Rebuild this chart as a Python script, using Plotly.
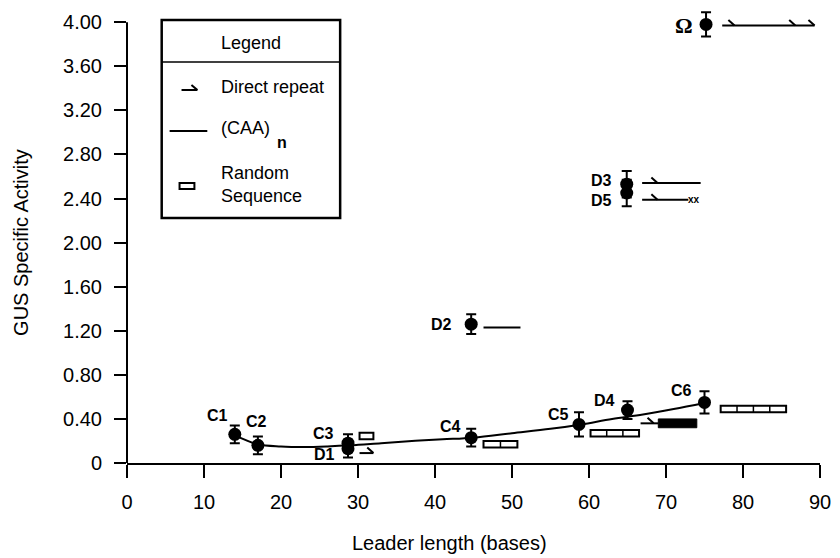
import plotly.graph_objects as go

# ---------------- data ----------------
construct_labels = ["C1", "C2", "C3", "D1", "C4", "D2", "C5", "D4", "C6", "D3", "D5", "Ω"]
leader_length = [14, 17, 28.7, 28.7, 44.7, 44.7, 58.7, 65, 75, 64.9, 64.9, 75.2]
gus_activity = [0.26, 0.16, 0.18, 0.13, 0.23, 1.26, 0.35, 0.48, 0.55, 2.53, 2.45, 3.98]
gus_error = [0.08, 0.08, 0.08, 0.08, 0.08, 0.09, 0.11, 0.08, 0.10, 0.12, 0.12, 0.11]

label_x = [11.7, 16.8, 25.5, 25.6, 42.0, 40.9, 56.0, 62.0, 72.0, 61.6, 61.6, 72.4]
label_y = [0.43, 0.38, 0.27, 0.08, 0.33, 1.26, 0.44, 0.57, 0.66, 2.565, 2.385, 3.97]

# smooth trend through the C-series
trend_x = [14, 17, 20, 23, 26, 29, 33, 37, 41, 45, 50, 55, 59, 63, 67, 71, 75]
trend_y = [0.25, 0.17, 0.15, 0.145, 0.15, 0.16, 0.18, 0.20, 0.215, 0.23, 0.27, 0.31, 0.35, 0.40, 0.44, 0.49, 0.545]

# construct diagrams (leader composition)
random_start = [30.2, 46.3, 60.2, 77.1]
random_end = [32.0, 50.7, 66.5, 85.6]
random_y = [0.245, 0.17, 0.27, 0.49]
random_units = [1, 2, 3, 4]

caa_start = [77.3, 66.9, 66.9, 46.3, 30.2, 66.7]
caa_end = [89.3, 74.5, 72.9, 51.1, 32.0, 69.0]
caa_y = [3.97, 2.54, 2.39, 1.23, 0.09, 0.36]

repeat_x = [78.9, 86.8, 89.3, 68.9, 68.9, 32.0, 68.4]
repeat_y = [3.97, 3.97, 3.97, 2.54, 2.39, 0.09, 0.36]

block_start = [69.0]
block_end = [74.0]
block_y = [0.36]

mutation_x = [73.7]
mutation_y = [2.39]

x_ticks = [0, 10, 20, 30, 40, 50, 60, 70, 80, 90]
y_ticks = [0, 0.4, 0.8, 1.2, 1.6, 2.0, 2.4, 2.8, 3.2, 3.6, 4.0]
y_tick_text = ["0", "0.40", "0.80", "1.20", "1.60", "2.00", "2.40", "2.80", "3.20", "3.60", "4.00"]

# ---------------- layout helpers ----------------
W, H = 840, 558
ML, MR, MT, MB = 127, 14, 9, 95
Y_MAX = 4.12
PW, PH = W - ML - MR, H - MT - MB
FONT = "Liberation Sans, Arial, Helvetica, sans-serif"


def px(x):
    return (x - ML) / PW


def py(y):
    return (H - MB - y) / PH


fig = go.Figure()

fig.add_trace(go.Scatter(
    x=trend_x, y=trend_y, mode="lines", line=dict(color="black", width=2, shape="spline"),
    hoverinfo="skip", showlegend=False))

fig.add_trace(go.Scatter(
    x=leader_length, y=gus_activity, mode="markers",
    marker=dict(color="black", size=13, symbol="circle"),
    error_y=dict(type="data", array=gus_error, color="black", thickness=2, width=5),
    showlegend=False, cliponaxis=False))

shapes = []
annotations = []

# random sequence boxes
for s, e, y, n in zip(random_start, random_end, random_y, random_units):
    h = 0.03
    shapes.append(dict(type="rect", xref="x", yref="y", x0=s, x1=e, y0=y - h, y1=y + h,
                       line=dict(color="black", width=2), fillcolor="white", layer="above"))
    step = (e - s) / n
    for k in range(1, n):
        shapes.append(dict(type="line", xref="x", yref="y", x0=s + k * step, x1=s + k * step,
                           y0=y - h, y1=y + h, line=dict(color="black", width=1.5)))

# (CAA)n lines
for s, e, y in zip(caa_start, caa_end, caa_y):
    shapes.append(dict(type="line", xref="x", yref="y", x0=s, x1=e, y0=y, y1=y,
                       line=dict(color="black", width=2)))

# direct repeat barbs
for x, y in zip(repeat_x, repeat_y):
    shapes.append(dict(type="line", xref="x", yref="y", x0=x - 0.8, x1=x, y0=y + 0.05, y1=y,
                       line=dict(color="black", width=2)))

# filled block
for s, e, y in zip(block_start, block_end, block_y):
    shapes.append(dict(type="rect", xref="x", yref="y", x0=s, x1=e, y0=y - 0.04, y1=y + 0.04,
                       line=dict(color="black", width=1), fillcolor="black"))

for x, y in zip(mutation_x, mutation_y):
    annotations.append(dict(x=x, y=y, xref="x", yref="y", text="<b>xx</b>", showarrow=False,
                            xanchor="center", yanchor="middle",
                            font=dict(family=FONT, size=10, color="black")))

# point labels
for t, x, y in zip(construct_labels, label_x, label_y):
    if t == "Ω":
        annotations.append(dict(x=x, y=y, xref="x", yref="y", text="<b>Ω</b>", showarrow=False,
                                xanchor="center", yanchor="middle",
                                font=dict(family="Liberation Serif, Times New Roman, serif", size=22, color="black")))
    else:
        annotations.append(dict(x=x, y=y, xref="x", yref="y", text="<b>" + t + "</b>", showarrow=False,
                                xanchor="center", yanchor="middle",
                                font=dict(family=FONT, size=16, color="black")))

# y axis line (ends at 4.00)
shapes.append(dict(type="line", xref="paper", yref="paper", x0=0, x1=0, y0=0, y1=4.0 / Y_MAX,
                   line=dict(color="black", width=2)))

# legend box
shapes.append(dict(type="rect", xref="paper", yref="paper", x0=px(162), x1=px(342), y0=py(218), y1=py(20),
                   line=dict(color="black", width=2.5), fillcolor="white", layer="above"))
shapes.append(dict(type="line", xref="paper", yref="paper", x0=px(162), x1=px(342), y0=py(62), y1=py(62),
                   line=dict(color="black", width=1.5)))
# legend glyphs
shapes.append(dict(type="line", xref="paper", yref="paper", x0=px(182), x1=px(198), y0=py(90), y1=py(90),
                   line=dict(color="black", width=2)))
shapes.append(dict(type="line", xref="paper", yref="paper", x0=px(192), x1=px(198), y0=py(85), y1=py(90),
                   line=dict(color="black", width=2)))
shapes.append(dict(type="line", xref="paper", yref="paper", x0=px(170), x1=px(208), y0=py(131), y1=py(131),
                   line=dict(color="black", width=2)))
shapes.append(dict(type="rect", xref="paper", yref="paper", x0=px(180), x1=px(195), y0=py(189), y1=py(183),
                   line=dict(color="black", width=2), fillcolor="white"))

legend_font = dict(family=FONT, size=18, color="black")
annotations += [
    dict(x=px(252), y=py(43), xref="paper", yref="paper", text="Legend", showarrow=False,
         xanchor="center", yanchor="middle", font=legend_font),
    dict(x=px(220), y=py(87), xref="paper", yref="paper", text="Direct repeat", showarrow=False,
         xanchor="left", yanchor="middle", font=legend_font),
    dict(x=px(220), y=py(128), xref="paper", yref="paper", text="(CAA)", showarrow=False,
         xanchor="left", yanchor="middle", font=legend_font),
    dict(x=px(276), y=py(143), xref="paper", yref="paper", text="<b>n</b>", showarrow=False,
         xanchor="left", yanchor="middle", font=dict(family=FONT, size=16, color="black")),
    dict(x=px(220), y=py(184), xref="paper", yref="paper", text="Random<br>Sequence", showarrow=False,
         xanchor="left", yanchor="middle", align="left", font=legend_font),
]

# axis titles
annotations += [
    dict(x=px(452), y=py(543), xref="paper", yref="paper", text="Leader length (bases)", showarrow=False,
         xanchor="center", yanchor="middle", font=dict(family=FONT, size=20, color="black")),
    dict(x=px(20), y=py(242), xref="paper", yref="paper", text="GUS Specific Activity", showarrow=False,
         xanchor="center", yanchor="middle", textangle=-90, font=dict(family=FONT, size=20, color="black")),
]

fig.update_layout(
    width=W, height=H, margin=dict(l=ML, r=MR, t=MT, b=MB),
    paper_bgcolor="white", plot_bgcolor="white",
    shapes=shapes, annotations=annotations, showlegend=False,
    font=dict(family=FONT, size=19, color="black"),
    xaxis=dict(range=[0, 90], tickvals=x_ticks, ticks="outside", ticklen=13, tickwidth=2,
               tickcolor="black", showline=True, linecolor="black", linewidth=2,
               showgrid=False, zeroline=False, ticklabelstandoff=7,
               tickfont=dict(family=FONT, size=20, color="black")),
    yaxis=dict(range=[0, Y_MAX], tickvals=y_ticks, ticktext=y_tick_text, ticks="outside",
               ticklen=12, tickwidth=2, tickcolor="black", showline=False,
               showgrid=False, zeroline=False, ticklabelstandoff=8,
               tickfont=dict(family=FONT, size=20, color="black")),
)

fig.write_html("out.html")
